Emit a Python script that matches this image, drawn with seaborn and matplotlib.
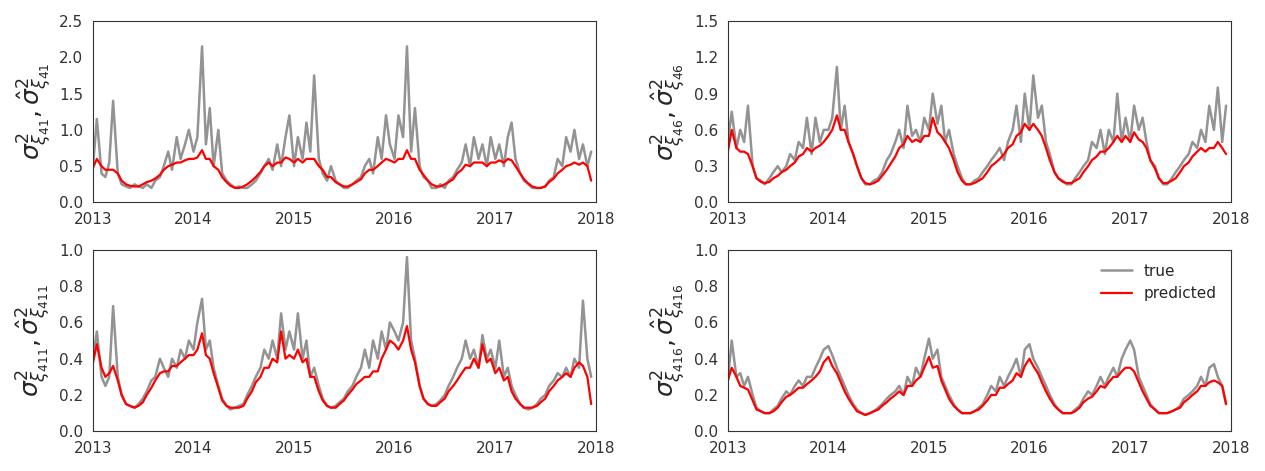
import pandas as pd
import matplotlib
matplotlib.use('Agg')
import matplotlib.pyplot as plt
import seaborn as sns

dates = pd.date_range('2013-01-01', periods=120, freq='SMS')

true_41 = [0.5,1.15,0.4,0.35,0.55,1.4,0.4,0.25,0.22,0.2,0.25,0.22,0.2,0.25,0.2,0.3,0.35,0.5,0.7,0.45,0.9,0.6,0.8,1.0,
           0.7,0.9,2.15,0.8,1.3,0.5,1.0,0.4,0.3,0.25,0.2,0.22,0.2,0.2,0.25,0.3,0.4,0.5,0.6,0.45,0.8,0.5,0.9,1.2,
           0.5,0.9,0.6,1.1,0.7,1.75,0.6,0.4,0.3,0.5,0.3,0.25,0.2,0.2,0.25,0.3,0.35,0.5,0.6,0.4,0.9,0.6,1.2,0.8,
           0.6,1.2,0.9,2.15,0.7,1.3,0.5,0.35,0.3,0.2,0.2,0.25,0.2,0.3,0.35,0.45,0.55,0.8,0.5,0.9,0.6,0.8,0.5,0.9,
           0.6,0.8,0.5,0.9,1.1,0.6,0.4,0.3,0.25,0.2,0.2,0.2,0.22,0.3,0.35,0.6,0.5,0.9,0.7,1.0,0.6,0.8,0.5,0.7]
pred_41 = [0.48,0.6,0.5,0.45,0.45,0.45,0.4,0.3,0.25,0.23,0.22,0.22,0.25,0.28,0.3,0.33,0.38,0.45,0.5,0.52,0.55,0.55,0.58,0.6,
           0.6,0.62,0.72,0.6,0.6,0.5,0.45,0.35,0.28,0.23,0.2,0.2,0.22,0.25,0.3,0.35,0.42,0.5,0.55,0.5,0.55,0.55,0.62,0.6,
           0.55,0.6,0.55,0.6,0.6,0.6,0.5,0.45,0.35,0.35,0.28,0.25,0.22,0.22,0.25,0.28,0.32,0.4,0.45,0.45,0.5,0.55,0.6,0.58,
           0.55,0.6,0.6,0.72,0.6,0.6,0.45,0.38,0.3,0.25,0.22,0.22,0.25,0.28,0.32,0.4,0.45,0.52,0.5,0.55,0.55,0.55,0.5,0.55,
           0.55,0.58,0.55,0.6,0.58,0.5,0.4,0.32,0.26,0.22,0.2,0.2,0.22,0.28,0.33,0.4,0.45,0.5,0.52,0.55,0.52,0.55,0.5,0.3]

true_46 = [0.5,0.75,0.45,0.6,0.5,0.8,0.3,0.2,0.18,0.15,0.2,0.25,0.3,0.25,0.3,0.4,0.35,0.5,0.45,0.7,0.4,0.7,0.5,0.6,
           0.6,0.7,1.12,0.6,0.8,0.5,0.4,0.3,0.2,0.15,0.15,0.18,0.2,0.25,0.35,0.4,0.5,0.6,0.45,0.8,0.55,0.6,0.5,0.7,
           0.6,0.9,0.65,0.8,0.5,0.6,0.4,0.3,0.2,0.15,0.15,0.18,0.2,0.25,0.3,0.35,0.4,0.45,0.35,0.5,0.6,0.8,0.5,0.9,
           0.6,1.05,0.7,0.8,0.5,0.4,0.25,0.2,0.18,0.15,0.15,0.2,0.25,0.3,0.35,0.5,0.45,0.6,0.4,0.6,0.5,0.9,0.5,0.7,
           0.5,0.8,0.6,0.7,0.5,0.35,0.3,0.2,0.15,0.15,0.2,0.25,0.3,0.35,0.4,0.5,0.45,0.6,0.5,0.8,0.6,0.95,0.5,0.8]
pred_46 = [0.42,0.6,0.45,0.42,0.42,0.4,0.3,0.2,0.17,0.16,0.17,0.2,0.22,0.25,0.27,0.3,0.33,0.38,0.4,0.45,0.42,0.45,0.47,0.5,
           0.55,0.6,0.72,0.6,0.6,0.5,0.4,0.3,0.2,0.16,0.15,0.16,0.18,0.22,0.27,0.32,0.38,0.45,0.48,0.55,0.5,0.52,0.5,0.55,
           0.55,0.7,0.58,0.55,0.5,0.45,0.35,0.25,0.18,0.15,0.15,0.16,0.18,0.2,0.25,0.3,0.33,0.36,0.4,0.45,0.48,0.55,0.58,0.65,
           0.6,0.65,0.6,0.55,0.45,0.35,0.25,0.2,0.17,0.16,0.16,0.18,0.2,0.25,0.3,0.35,0.38,0.42,0.42,0.45,0.5,0.55,0.5,0.55,
           0.5,0.58,0.52,0.5,0.45,0.35,0.28,0.2,0.16,0.16,0.18,0.2,0.25,0.3,0.33,0.38,0.42,0.45,0.42,0.45,0.45,0.5,0.45,0.4]

true_411 = [0.4,0.55,0.3,0.25,0.3,0.69,0.3,0.2,0.15,0.14,0.13,0.15,0.18,0.22,0.28,0.3,0.4,0.35,0.3,0.4,0.35,0.45,0.4,0.5,
            0.45,0.6,0.73,0.45,0.5,0.35,0.25,0.18,0.14,0.12,0.13,0.14,0.15,0.2,0.25,0.3,0.35,0.45,0.4,0.5,0.4,0.65,0.45,0.55,
            0.45,0.65,0.4,0.5,0.3,0.35,0.25,0.18,0.14,0.13,0.14,0.16,0.18,0.22,0.25,0.3,0.35,0.45,0.35,0.5,0.4,0.55,0.45,0.6,
            0.55,0.5,0.6,0.96,0.5,0.4,0.25,0.18,0.15,0.14,0.15,0.17,0.2,0.25,0.3,0.35,0.4,0.5,0.4,0.45,0.35,0.53,0.4,0.45,
            0.35,0.5,0.3,0.35,0.25,0.2,0.15,0.13,0.12,0.13,0.15,0.18,0.2,0.25,0.28,0.32,0.3,0.35,0.3,0.4,0.35,0.72,0.4,0.3]
pred_411 = [0.38,0.48,0.35,0.3,0.32,0.36,0.28,0.2,0.15,0.14,0.13,0.14,0.16,0.2,0.24,0.28,0.32,0.33,0.33,0.36,0.36,0.38,0.4,0.42,
            0.42,0.45,0.54,0.42,0.4,0.32,0.24,0.17,0.14,0.13,0.13,0.13,0.14,0.18,0.22,0.27,0.3,0.35,0.35,0.4,0.38,0.55,0.4,0.42,
            0.4,0.45,0.38,0.4,0.3,0.3,0.22,0.17,0.14,0.13,0.13,0.15,0.17,0.2,0.23,0.26,0.28,0.3,0.3,0.33,0.33,0.4,0.45,0.5,
            0.48,0.45,0.5,0.58,0.45,0.38,0.25,0.18,0.15,0.14,0.14,0.16,0.18,0.22,0.25,0.28,0.32,0.35,0.35,0.4,0.35,0.48,0.38,0.4,
            0.32,0.35,0.28,0.3,0.22,0.18,0.15,0.13,0.13,0.13,0.14,0.16,0.18,0.22,0.25,0.28,0.3,0.32,0.3,0.35,0.38,0.36,0.3,0.15]

true_416 = [0.28,0.5,0.3,0.32,0.25,0.3,0.2,0.13,0.11,0.1,0.1,0.12,0.14,0.18,0.22,0.2,0.25,0.28,0.25,0.3,0.3,0.35,0.4,0.45,
            0.47,0.42,0.35,0.3,0.25,0.2,0.15,0.12,0.1,0.09,0.1,0.11,0.13,0.15,0.18,0.2,0.22,0.25,0.2,0.3,0.25,0.35,0.3,0.4,
            0.51,0.4,0.45,0.3,0.25,0.2,0.15,0.12,0.1,0.1,0.1,0.11,0.13,0.15,0.2,0.25,0.22,0.3,0.25,0.3,0.35,0.4,0.3,0.45,
            0.48,0.4,0.35,0.3,0.25,0.2,0.15,0.12,0.1,0.1,0.1,0.12,0.14,0.18,0.22,0.2,0.25,0.3,0.25,0.3,0.35,0.3,0.4,0.45,
            0.5,0.45,0.3,0.25,0.2,0.15,0.12,0.1,0.1,0.1,0.11,0.12,0.14,0.18,0.2,0.22,0.25,0.3,0.25,0.35,0.37,0.3,0.25,0.15]
pred_416 = [0.28,0.35,0.3,0.25,0.24,0.23,0.17,0.12,0.11,0.1,0.1,0.11,0.13,0.16,0.19,0.2,0.22,0.24,0.24,0.26,0.28,0.3,0.33,0.38,
            0.41,0.36,0.32,0.27,0.22,0.18,0.14,0.11,0.1,0.09,0.1,0.11,0.12,0.14,0.16,0.18,0.2,0.22,0.2,0.25,0.25,0.28,0.3,0.35,
            0.41,0.35,0.36,0.28,0.23,0.18,0.14,0.12,0.1,0.1,0.1,0.11,0.12,0.14,0.17,0.2,0.2,0.24,0.24,0.26,0.28,0.32,0.3,0.36,
            0.4,0.36,0.32,0.27,0.22,0.18,0.14,0.12,0.1,0.1,0.1,0.11,0.13,0.16,0.18,0.19,0.22,0.25,0.24,0.27,0.3,0.3,0.33,0.35,
            0.35,0.33,0.27,0.22,0.18,0.14,0.12,0.1,0.1,0.1,0.11,0.12,0.13,0.16,0.18,0.2,0.22,0.25,0.25,0.27,0.28,0.27,0.25,0.15]

panels = [
    (true_41, pred_41, '41', (0, 2.5), 0.5),
    (true_46, pred_46, '46', (0, 1.5), 0.3),
    (true_411, pred_411, '411', (0, 1.0), 0.2),
    (true_416, pred_416, '416', (0, 1.0), 0.2),
]

sns.set_style('white')
fig, axes = plt.subplots(2, 2, figsize=(12.65, 4.71), dpi=100)
for i, (ax, (tr, pr, idx, ylim, step)) in enumerate(zip(axes.flat, panels)):
    df = pd.DataFrame({'date': dates, 'true': tr, 'predicted': pr})
    sns.lineplot(data=df, x='date', y='true', ax=ax, color='gray', alpha=0.85, lw=1.8, label='true')
    sns.lineplot(data=df, x='date', y='predicted', ax=ax, color='red', lw=1.6, label='predicted')
    ax.set_xlim(pd.Timestamp('2013-01-01'), pd.Timestamp('2018-01-01'))
    ax.set_ylim(*ylim)
    ax.set_yticks([round(step * k, 2) for k in range(int(round(ylim[1] / step)) + 1)])
    ax.set_xticks(pd.date_range('2013-01-01', '2018-01-01', freq='YS'))
    ax.set_xticklabels([str(y) for y in range(2013, 2019)])
    ax.set_xlabel('')
    ax.set_ylabel(r'$\sigma^2_{\xi_{%s}},\hat{\sigma}^2_{\xi_{%s}}$' % (idx, idx), fontsize=18)
    ax.tick_params(labelsize=11, colors='#333333')
    for s in ax.spines.values():
        s.set_color('#333333')
    if i == 3:
        ax.legend(frameon=False, fontsize=11, loc='upper right')
    else:
        ax.get_legend().remove()

plt.tight_layout(w_pad=2.5, h_pad=1.2)
plt.savefig('out.png')
